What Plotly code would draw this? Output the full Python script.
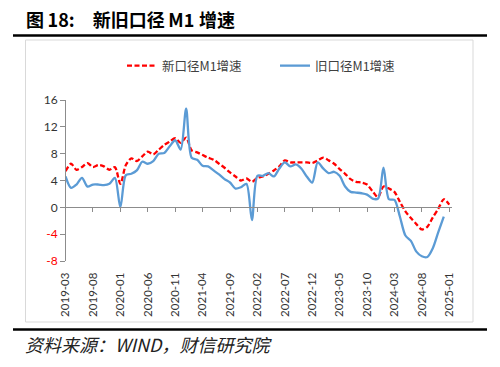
import plotly.graph_objects as go

# ---------------- data ----------------
all_months = [f"{y}-{m:02d}" for y in range(2019, 2026) for m in range(1, 13)]
months = all_months[all_months.index("2019-03"): all_months.index("2025-01") + 1]

new_m1 = [5.4, 6.5, 5.6, 6.0, 6.6, 6.0, 6.3, 6.1, 5.6, 6.0,
          3.5, 6.3, 7.3, 6.9, 7.6, 8.3, 7.9, 8.6, 9.3, 9.8,
          10.3, 9.6, 10.4, 8.5, 8.2, 7.8, 7.4, 7.1, 6.5, 5.9,
          5.2, 4.6, 4.0, 4.3, 3.8, 4.4, 4.6, 5.0, 5.5, 6.1,
          7.0, 6.7, 6.7, 6.7, 6.7, 6.6, 7.0, 7.4, 7.0, 6.5,
          5.7, 5.0, 4.2, 3.8, 3.7, 3.4, 2.4, 1.5, 3.1, 2.8,
          2.3, 0.8, -0.6, -1.6, -2.5, -3.3, -2.9, -1.5, -0.2, 1.2, 0.4]

old_m1 = [4.6, 2.9, 3.4, 4.4, 3.1, 3.4, 3.4, 3.3, 3.5, 4.4,
          0.0, 4.8, 5.0, 5.5, 6.8, 6.5, 6.9, 8.0, 8.1, 9.1, 10.0, 8.6,
          14.7, 7.4, 7.1, 6.2, 6.1, 5.5, 4.9, 4.2, 3.7, 2.8, 3.0, 3.5,
          -1.9, 4.7, 4.7, 5.1, 4.6, 5.8, 6.7, 6.1, 6.4, 5.8, 4.6, 3.7,
          6.7, 5.8, 5.1, 5.3, 4.7, 3.1, 2.3, 2.2, 2.1, 1.9, 1.3, 1.3,
          5.9, 1.2, 1.1, -1.4, -4.2, -5.0, -6.6, -7.3, -7.4, -6.1, -3.7, -1.4]

series_names = ["新口径M1增速", "旧口径M1增速"]
y_ticks = [-8, -4, 0, 4, 8, 12, 16]
tick_step = 5
title_text = "图\u200918:\u2002\u2002新旧口径\u2009M1\u2009\u200a增速"
source_text = "资料来源：WIND，财信研究院"

# ---------------- layout geometry ----------------
W, H = 500, 367
L, R, T, B = 65, 48, 100, 106
pw, ph = W - L - R, H - T - B


def px(x):
    return (x - L) / pw


def py(y):
    return (H - B - y) / ph


ymin, ymax = y_ticks[0], y_ticks[-1]
zero_pos = (0 - ymin) / (ymax - ymin)

tick_idx = list(range(0, len(months), tick_step))
tick_lab = [months[i] for i in tick_idx]

ytext = [f'<span style="color:#FF0000">{v}</span>' if v < 0 else str(v) for v in y_ticks]

fig = go.Figure()
fig.add_trace(go.Scatter(
    x=months, y=new_m1, name=series_names[0], mode="lines",
    line=dict(color="#FF0000", width=2.3, dash="5px,2.5px", shape="spline", smoothing=0.8),
))
fig.add_trace(go.Scatter(
    x=months[:len(old_m1)], y=old_m1, name=series_names[1], mode="lines",
    line=dict(color="#5B9BD5", width=2.3, shape="spline", smoothing=0.8),
))

axis_col = "#8C8C8C"
fig.update_layout(
    width=W, height=H,
    margin=dict(l=L, r=R, t=T, b=B),
    paper_bgcolor="white", plot_bgcolor="white",
    font=dict(family="Lato, 'Noto Sans CJK SC', sans-serif", color="#333333"),
    title=dict(text=f"<b>{title_text}</b>", x=26 / W, y=1 - 21 / H,
               xref="container", yref="container", xanchor="left", yanchor="middle",
               font=dict(family="'Noto Sans CJK SC', sans-serif", size=18, color="#000000")),
    showlegend=True,
    legend=dict(orientation="h", x=122 / W, y=1 - 66 / H, xref="container", yref="container",
                xanchor="left", yanchor="middle", entrywidth=108,
                font=dict(family="'Noto Sans CJK SC', sans-serif", size=12.5, color="#404040"),
                bgcolor="rgba(0,0,0,0)"),
    xaxis=dict(type="category", anchor="free", position=zero_pos,
               range=[-0.1, len(months) - 0.5],
               showline=True, linecolor=axis_col, linewidth=1,
               ticks="outside", ticklen=4, tickcolor=axis_col,
               tickmode="array", tickvals=tick_lab, showticklabels=False,
               showgrid=False, zeroline=False),
    xaxis2=dict(overlaying="x", anchor="y", side="bottom", type="linear",
                range=[-0.1, len(months) - 0.5],
                showline=False, showgrid=False, zeroline=False,
                ticks="outside", ticklen=6, tickcolor="rgba(0,0,0,0)",
                tickmode="array", tickvals=tick_idx, ticktext=tick_lab, tickangle=-90,
                tickfont=dict(size=11.5, color="#333333")),
    yaxis=dict(range=[ymin, ymax], anchor="free", position=0,
               showline=True, linecolor=axis_col, linewidth=1,
               ticks="outside", ticklen=5, tickcolor=axis_col,
               tickmode="array", tickvals=y_ticks, ticktext=ytext,
               tickfont=dict(size=12, color="#333333"),
               showgrid=False, zeroline=False),
)

# invisible helper trace so the label axis (xaxis2) renders
fig.add_trace(go.Scatter(x=[tick_idx[0]], y=[ymin], xaxis="x2", mode="markers",
                         marker=dict(opacity=0), showlegend=False, hoverinfo="skip"))

fig.add_shape(type="line", xref="paper", yref="paper", x0=px(13), x1=px(487), y0=py(35.5), y1=py(35.5),
              line=dict(color="black", width=2.5))
fig.add_shape(type="rect", xref="paper", yref="paper", x0=px(25.5), x1=px(473), y0=py(40), y1=py(322),
              line=dict(color="#D9D9D9", width=1))
fig.add_shape(type="line", xref="paper", yref="paper", x0=px(13), x1=px(487), y0=py(329.5), y1=py(329.5),
              line=dict(color="black", width=2.5))

fig.add_annotation(text=f"<i>{source_text}</i>", xref="paper", yref="paper",
                   x=px(23), y=py(344), xanchor="left", yanchor="middle", showarrow=False,
                   font=dict(family="'Noto Sans CJK SC', serif", size=18, color="#222222"))

fig.write_html("out.html", config={"displayModeBar": False},
               post_script="document.body.style.margin='0px';")
